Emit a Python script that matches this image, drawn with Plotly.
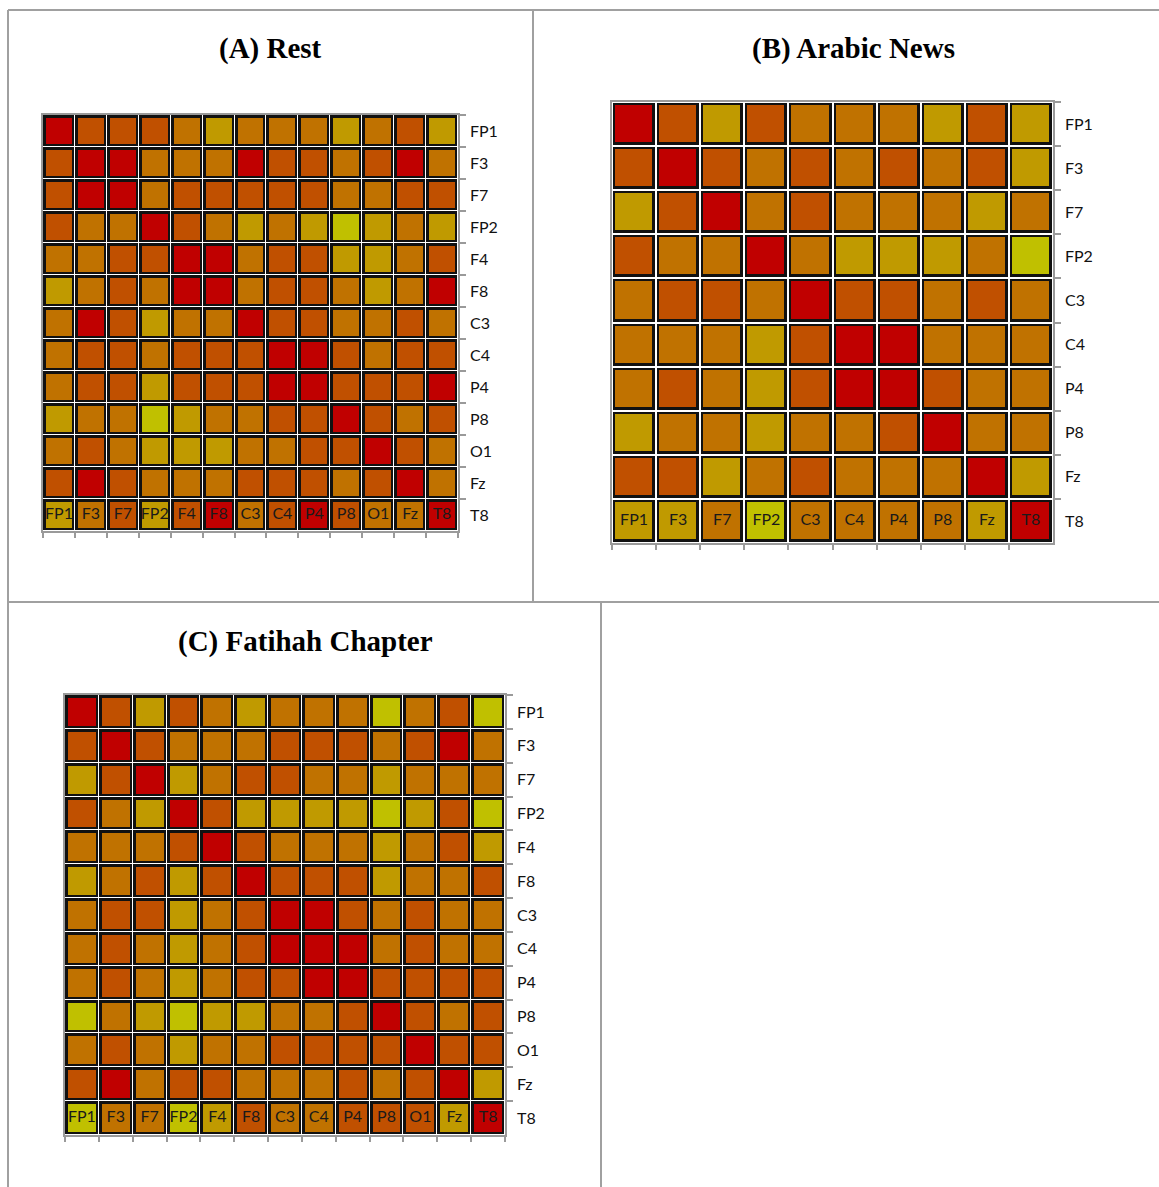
import plotly.graph_objects as go

# Electrode labels
LABELS_13 = ["FP1", "F3", "F7", "FP2", "F4", "F8", "C3", "C4", "P4", "P8", "O1", "Fz", "T8"]
LABELS_10 = ["FP1", "F3", "F7", "FP2", "C3", "C4", "P4", "P8", "Fz", "T8"]

# Connectivity level per electrode pair (1 = weakest ... 5 = strongest)
REST = [
    [5, 4, 4, 4, 3, 2, 3, 3, 3, 2, 3, 4, 2],
    [4, 5, 5, 3, 3, 3, 5, 4, 4, 3, 4, 5, 3],
    [4, 5, 5, 3, 4, 4, 4, 4, 4, 3, 3, 4, 4],
    [4, 3, 3, 5, 4, 3, 2, 3, 2, 1, 2, 3, 2],
    [3, 3, 4, 4, 5, 5, 3, 4, 4, 2, 2, 3, 4],
    [2, 3, 4, 3, 5, 5, 3, 4, 4, 3, 2, 3, 5],
    [3, 5, 4, 2, 3, 3, 5, 4, 4, 3, 3, 4, 3],
    [3, 4, 4, 3, 4, 4, 4, 5, 5, 4, 3, 4, 4],
    [3, 4, 4, 2, 4, 4, 4, 5, 5, 4, 4, 4, 5],
    [2, 3, 3, 1, 2, 3, 3, 4, 4, 5, 4, 3, 4],
    [3, 4, 3, 2, 2, 2, 3, 3, 4, 4, 5, 4, 3],
    [4, 5, 4, 3, 3, 3, 4, 4, 4, 3, 4, 5, 3],
    [2, 3, 4, 2, 4, 5, 3, 4, 5, 4, 3, 3, 5],
]

ARABIC_NEWS = [
    [5, 4, 2, 4, 3, 3, 3, 2, 4, 2],
    [4, 5, 4, 3, 4, 3, 4, 3, 4, 2],
    [2, 4, 5, 3, 4, 3, 3, 3, 2, 3],
    [4, 3, 3, 5, 3, 2, 2, 2, 3, 1],
    [3, 4, 4, 3, 5, 4, 4, 3, 4, 3],
    [3, 3, 3, 2, 4, 5, 5, 3, 3, 3],
    [3, 4, 3, 2, 4, 5, 5, 4, 3, 3],
    [2, 3, 3, 2, 3, 3, 4, 5, 3, 3],
    [4, 4, 2, 3, 4, 3, 3, 3, 5, 2],
    [2, 2, 3, 1, 3, 3, 3, 3, 2, 5],
]

FATIHAH = [
    [5, 4, 2, 4, 3, 2, 3, 3, 3, 1, 3, 4, 1],
    [4, 5, 4, 3, 3, 3, 4, 4, 4, 3, 4, 5, 3],
    [2, 4, 5, 2, 3, 4, 4, 3, 3, 2, 3, 3, 3],
    [4, 3, 2, 5, 4, 2, 2, 2, 2, 1, 2, 4, 1],
    [3, 3, 3, 4, 5, 4, 3, 3, 3, 2, 3, 4, 2],
    [2, 3, 4, 2, 4, 5, 4, 4, 4, 2, 3, 3, 4],
    [3, 4, 4, 2, 3, 4, 5, 5, 4, 3, 4, 3, 3],
    [3, 4, 3, 2, 3, 4, 5, 5, 5, 3, 4, 3, 3],
    [3, 4, 3, 2, 3, 4, 4, 5, 5, 4, 4, 4, 4],
    [1, 3, 2, 1, 2, 2, 3, 3, 4, 5, 4, 3, 4],
    [3, 4, 3, 2, 3, 3, 4, 4, 4, 4, 5, 4, 4],
    [4, 5, 3, 4, 4, 3, 3, 3, 4, 3, 4, 5, 2],
    [1, 3, 3, 1, 2, 4, 3, 3, 4, 4, 4, 2, 5],
]

TITLES = ["(A) Rest", "(B) Arabic News", "(C) Fatihah Chapter"]

W, H = 1159, 1187
LEVEL_COLORS = ["#C0C000", "#C09A00", "#C07200", "#C05000", "#C00000"]
AXIS_GREY = "#9a9a9a"
LABEL_FONT = "Lato"


def fx(p):
    return p / W


def fy(p):
    return 1 - p / H


def stepped_scale(colors):
    n = len(colors)
    scale = []
    for i, c in enumerate(colors):
        scale.append([i / n, c])
        scale.append([(i + 1) / n, c])
    return scale


# panel geometry in pixels: left, top, right, bottom of the cell grid
panels = [
    dict(title=TITLES[0], labels=LABELS_13, z=REST, box=(43, 115, 458, 531),
         title_xy=(270, 48), black_gap=1, color_gap=6, fs=16, cell_fs=16),
    dict(title=TITLES[1], labels=LABELS_10, z=ARABIC_NEWS, box=(612, 102, 1053, 543),
         title_xy=(853, 48), black_gap=2, color_gap=7, fs=16, cell_fs=16),
    dict(title=TITLES[2], labels=LABELS_13, z=FATIHAH, box=(65, 695, 505, 1135),
         title_xy=(305, 641), black_gap=1, color_gap=6, fs=16, cell_fs=16),
]

fig = go.Figure()
colorscale = stepped_scale(LEVEL_COLORS)

for i, p in enumerate(panels):
    suffix = "" if i == 0 else str(i + 1)
    xa, ya = "x" + suffix, "y" + suffix
    labels = p["labels"]
    n = len(labels)

    # black frame behind each cell
    fig.add_trace(go.Heatmap(
        x=labels, y=labels, z=[[0] * n for _ in range(n)],
        colorscale=[[0, "#111111"], [1, "#111111"]], showscale=False,
        xgap=p["black_gap"], ygap=p["black_gap"], hoverinfo="skip",
        xaxis=xa, yaxis=ya,
    ))
    # coloured connectivity level
    fig.add_trace(go.Heatmap(
        x=labels, y=labels, z=p["z"],
        colorscale=colorscale, zmin=0.5, zmax=5.5, showscale=False,
        xgap=p["color_gap"], ygap=p["color_gap"],
        xaxis=xa, yaxis=ya,
    ))
    # electrode names written inside the last row
    fig.add_trace(go.Scatter(
        x=labels, y=[labels[-1]] * n, text=labels, mode="text",
        textfont=dict(family=LABEL_FONT, size=p["cell_fs"], color="#1a1a1a"),
        hoverinfo="skip", showlegend=False, xaxis=xa, yaxis=ya,
    ))

    l, t, r, b = p["box"]
    common = dict(type="category", categoryorder="array", categoryarray=labels,
                  tickson="boundaries", ticks="outside", tickcolor=AXIS_GREY,
                  tickwidth=1.5, showline=True, linecolor=AXIS_GREY, linewidth=1.5,
                  mirror=True, showgrid=False, zeroline=False, fixedrange=True)
    fig.layout["xaxis" + suffix] = dict(
        common, domain=[fx(l), fx(r)], anchor=ya, range=[-0.5, n - 0.5],
        ticklen=5, showticklabels=False,
    )
    fig.layout["yaxis" + suffix] = dict(
        common, domain=[fy(b), fy(t)], anchor=xa, range=[n - 0.5, -0.5],
        side="right", ticklen=6, ticklabelstandoff=7,
        tickfont=dict(family=LABEL_FONT, size=p["fs"], color="#111111"),
    )

    tx, ty = p["title_xy"]
    fig.add_annotation(
        text="<b>" + p["title"] + "</b>", xref="paper", yref="paper",
        x=fx(tx), y=fy(ty), xanchor="center", yanchor="middle", showarrow=False,
        font=dict(family="Liberation Serif", size=29, color="#000000"),
    )

# table rules separating the three panels
rules = [
    (8, 10, W, 10), (8, 10, 8, H), (533, 10, 533, 602),
    (8, 602, W, 602), (601, 602, 601, H),
]
for x0, y0, x1, y1 in rules:
    fig.add_shape(type="line", xref="paper", yref="paper",
                  x0=fx(x0), y0=fy(y0), x1=fx(x1), y1=fy(y1),
                  line=dict(color="#a0a0a0", width=2))

fig.update_layout(
    width=W, height=H, margin=dict(l=0, r=0, t=0, b=0),
    paper_bgcolor="white", plot_bgcolor="white", showlegend=False,
)

fig.write_html("out.html")
